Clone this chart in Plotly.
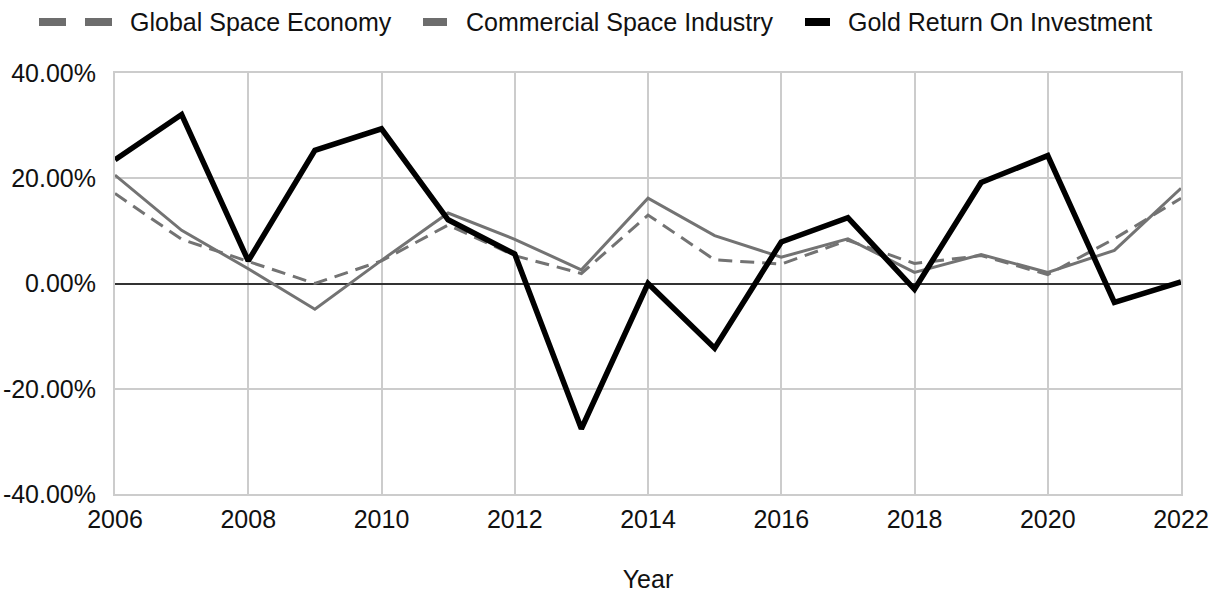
import plotly.graph_objects as go

# ---- data (annual % change) ----
years = list(range(2006, 2023))
global_space_economy = [17.1, 8.4, 4.2, 0.0, 4.3, 11.1, 5.3, 1.9, 13.0, 4.5,
                        3.7, 8.2, 3.8, 5.3, 1.7, 8.5, 16.2]
commercial_space_industry = [20.6, 10.1, 2.8, -4.9, 4.4, 13.4, 8.4, 2.6, 16.2, 9.1,
                             5.0, 8.5, 2.1, 5.5, 2.1, 6.3, 18.1]
gold_roi = [23.5, 32.1, 4.3, 25.3, 29.4, 12.1, 5.6, -27.6, 0.0, -12.3,
            7.9, 12.5, -1.1, 19.2, 24.3, -3.6, 0.3]

series_names = ["Global Space Economy", "Commercial Space Industry", "Gold Return On Investment"]
y_ticks = [-40, -20, 0, 20, 40]
x_ticks = list(range(2006, 2023, 2))

FONT = "Arial, Liberation Sans, sans-serif"
FS = 25
GRAY = "#737373"
TEXT = "#111111"

W, H = 1218, 593
M_L, M_R, M_T, M_B = 115, 37, 73, 99
PW, PH = W - M_L - M_R, H - M_T - M_B


def px_x(px):
    return (px - M_L) / PW


def px_y(py):
    return (H - M_B - py) / PH


fig = go.Figure()
fig.add_trace(go.Scatter(x=years, y=global_space_economy, mode="lines",
                         name=series_names[0],
                         line=dict(color=GRAY, width=3, dash="14px,8px")))
fig.add_trace(go.Scatter(x=years, y=commercial_space_industry, mode="lines",
                         name=series_names[1],
                         line=dict(color=GRAY, width=3)))
fig.add_trace(go.Scatter(x=years, y=gold_roi, mode="lines",
                         name=series_names[2],
                         line=dict(color="#000000", width=5.5)))

# legend row across the top: swatches + labels
swatch_h = 8
legend_y = 22
legend_items = [
    # (swatch spans in px, label left edge, colour)
    ([(39, 66), (85, 112)], 128, "#6d6d6d"),
    ([(423, 447)], 464, "#6d6d6d"),
    ([(805, 830)], 846, "#000000"),
]
shapes = []
annotations = []
for (spans, text_x, col), name in zip(legend_items, series_names):
    for x0, x1 in spans:
        shapes.append(dict(type="rect", xref="paper", yref="paper",
                           x0=px_x(x0), x1=px_x(x1),
                           y0=px_y(legend_y + swatch_h / 2), y1=px_y(legend_y - swatch_h / 2),
                           fillcolor=col, line=dict(width=0), layer="above"))
    annotations.append(dict(text=name, xref="paper", yref="paper",
                            x=px_x(text_x), y=px_y(legend_y),
                            xanchor="left", yanchor="middle", showarrow=False,
                            font=dict(family=FONT, size=FS, color=TEXT)))

fig.update_layout(
    width=W, height=H,
    margin=dict(l=M_L, r=M_R, t=M_T, b=M_B, autoexpand=False),
    paper_bgcolor="white", plot_bgcolor="white",
    showlegend=False,
    font=dict(family=FONT, size=FS, color=TEXT),
    shapes=shapes, annotations=annotations,
)
fig.update_xaxes(
    range=[2006, 2022], tickvals=x_ticks, ticktext=[str(v) for v in x_ticks],
    showgrid=True, gridcolor="#cccccc", gridwidth=2,
    showline=True, mirror=True, linecolor="#cccccc", linewidth=2,
    zeroline=False, ticks="", ticklabelstandoff=2,
    tickfont=dict(family=FONT, size=FS, color=TEXT),
    title=dict(text="Year", standoff=40, font=dict(family=FONT, size=FS, color=TEXT)),
    automargin=False,
)
fig.update_yaxes(
    range=[-40, 40], tickvals=y_ticks, ticktext=[f"{v:.2f}%" for v in y_ticks],
    showgrid=True, gridcolor="#cccccc", gridwidth=2,
    showline=True, mirror=True, linecolor="#cccccc", linewidth=2,
    zeroline=True, zerolinecolor="#333333", zerolinewidth=1.5,
    ticks="", ticklabelstandoff=12,
    tickfont=dict(family=FONT, size=FS, color=TEXT),
    automargin=False,
)

fig.write_html("out.html", config={"displayModeBar": False})
